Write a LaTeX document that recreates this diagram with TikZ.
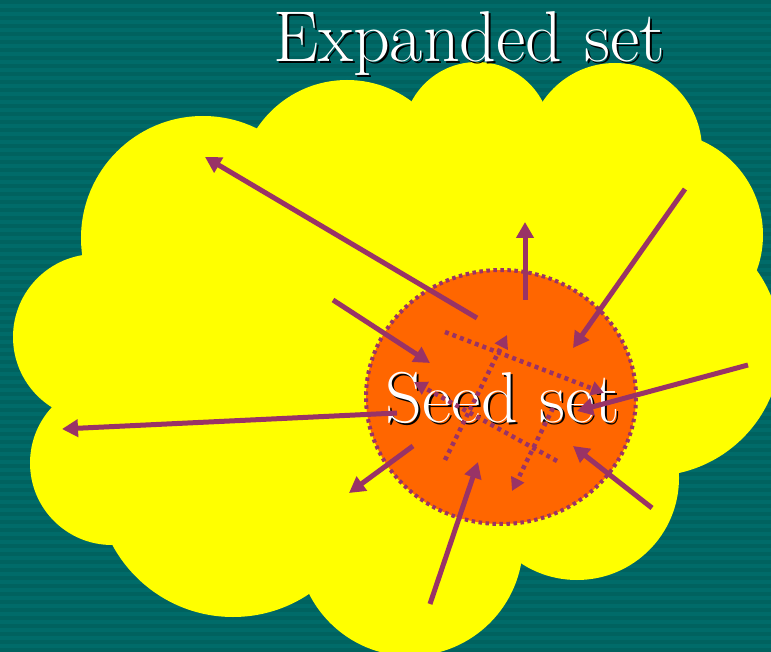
\documentclass[tikz,border=0pt]{standalone}
\usepackage{tikz}
\usetikzlibrary{arrows.meta,positioning,calc,shapes.geometric}
\usepackage{xcolor}
\definecolor{bgteal}{HTML}{006B69}
\definecolor{bgstripe}{HTML}{00625F}
\definecolor{cloudyellow}{HTML}{FFFF00}
\definecolor{seedorange}{HTML}{FF6600}
\definecolor{linkpurple}{HTML}{993366}

\begin{document}
\begin{tikzpicture}[
    x=1pt, y=-1pt,
    cloudpart/.style={fill=cloudyellow},
    seedarea/.style={
      ellipse, fill=seedorange, draw=linkpurple, line width=4pt,
      dash pattern=on 3.5pt off 3.5pt, minimum width=270pt,
      minimum height=254pt, inner sep=0pt
    },
    settext/.style={
      font=\fontsize{72}{72}\selectfont, text=white,
      inner sep=0pt, anchor=base
    },
    setshadow/.style={settext, text=black},
    link_out/.style={
      -{Triangle[length=16pt,width=17pt]}, line width=5pt, linkpurple
    },
    link_in/.style={link_out},
    link_inner/.style={
      -{Triangle[length=13pt,width=14pt]}, line width=4.5pt, linkpurple,
      dash pattern=on 4pt off 4pt
    }
  ]
  % --- Background ---
  \fill[bgteal] (0,0) rectangle (771,652);
  \foreach \y in {0,8,...,648}
    \fill[bgstripe] (0,\y) rectangle (771,\y+4);
  \useasboundingbox (0,0) rectangle (771,652);

  % --- Expanded set (cloud) ---
  \fill[cloudpart] (203,238) -- (347,188) -- (477,136) -- (615,150)
    -- (660,235) -- (651,346) -- (577,478) -- (410,543) -- (233,480)
    -- (112,463) -- (96,337) -- cycle;
  \foreach \cx/\cy/\r in {203/238/122, 347/188/108, 477/136/74,
      615/150/87, 660/235/103, 651/346/130, 577/478/102,
      410/543/113, 233/480/137, 112/463/82, 96/337/83}
    \fill[cloudpart] (\cx,\cy) circle (\r);

  \node[setshadow] (expshadow) at (471,64) {Expanded set};
  \node[settext] (explabel) at (469,62) {Expanded set};

  % --- Seed set ---
  \node[seedarea] (seed) at (501,397) {};
  \node[setshadow] (seedshadow) at (505,424) {Seed set};
  \node[settext] (seedlabel) at (503,422) {Seed set};

  % --- Arrow ends ---
  \coordinate (out1a) at (477,318); \coordinate (out1b) at (205,157);
  \coordinate (out2a) at (525,300); \coordinate (out2b) at (525,222);
  \coordinate (out3a) at (397,413); \coordinate (out3b) at (62,429);
  \coordinate (out4a) at (413,446); \coordinate (out4b) at (349,493);
  \coordinate (in1a) at (333,300);  \coordinate (in1b) at (430,363);
  \coordinate (in2a) at (685,189);  \coordinate (in2b) at (573,348);
  \coordinate (in3a) at (748,365);  \coordinate (in3b) at (577,411);
  \coordinate (in4a) at (652,508);  \coordinate (in4b) at (573,446);
  \coordinate (in5a) at (430,604);  \coordinate (in5b) at (478,462);
  \coordinate (mid1a) at (445,332); \coordinate (mid1b) at (604,393);
  \coordinate (mid2a) at (557,461); \coordinate (mid2b) at (414,382);
  \coordinate (mid3a) at (445,460); \coordinate (mid3b) at (507,335);
  \coordinate (mid4a) at (553,408); \coordinate (mid4b) at (512,491);

  % --- Links out of the seed set ---
  \draw[link_out] (out1a) -- (out1b);
  \draw[link_out] (out2a) -- (out2b);
  \draw[link_out] (out3a) -- (out3b);
  \draw[link_out] (out4a) -- (out4b);

  % --- Links into the seed set ---
  \draw[link_in] (in1a) -- (in1b);
  \draw[link_in] (in2a) -- (in2b);
  \draw[link_in] (in3a) -- (in3b);
  \draw[link_in] (in4a) -- (in4b);
  \draw[link_in] (in5a) -- (in5b);

  % --- Links inside the seed set ---
  \draw[link_inner] (mid1a) -- (mid1b);
  \draw[link_inner] (mid2a) -- (mid2b);
  \draw[link_inner] (mid3a) -- (mid3b);
  \draw[link_inner] (mid4a) -- (mid4b);
\end{tikzpicture}
\end{document}
